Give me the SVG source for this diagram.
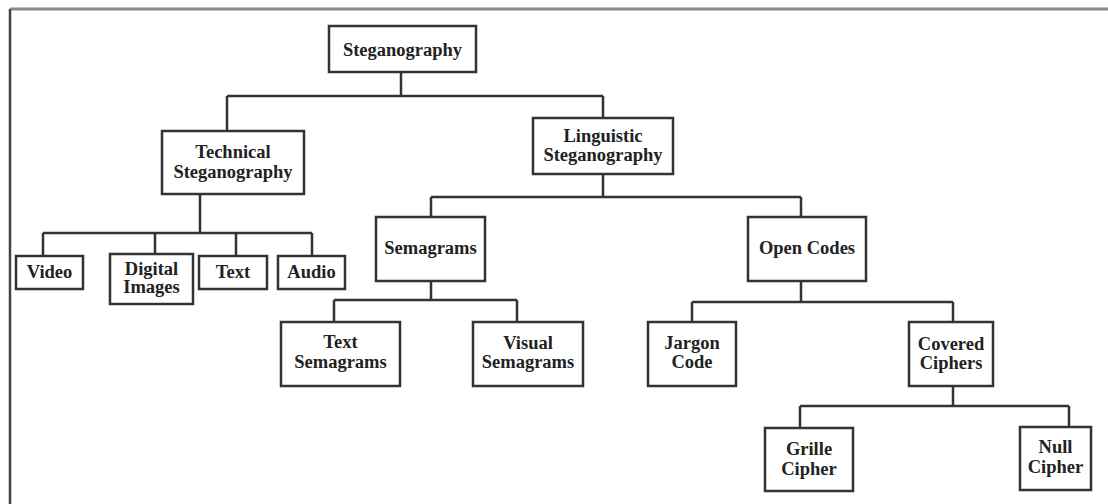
<svg xmlns="http://www.w3.org/2000/svg" width="1108" height="504" viewBox="0 0 1108 504">
<style>
.box{fill:#fff;stroke:#333;stroke-width:2.5}
.ln{fill:none;stroke:#333;stroke-width:2.5}
text{font-family:"Liberation Serif","Times New Roman",serif;font-weight:bold;font-size:18.5px;fill:#222;text-anchor:middle}
</style>
<rect x="0" y="0" width="1108" height="504" fill="#fff"/>
<g id="frame">
<line x1="10" y1="9" x2="1108" y2="9" stroke="#888" stroke-width="3"/>
<line x1="10" y1="9" x2="10" y2="504" stroke="#444" stroke-width="2.5"/>
</g>
<g id="connectors" class="ln">
<path class="ln" d="M401 72V96M227 96H603M227 96V131M603 96V118"/>
<path class="ln" d="M200 194V233M43 233H312M43 233V256M155 233V254M236 233V256M312 233V256"/>
<path class="ln" d="M603 174V197M431 197H801M431 197V217M801 197V217"/>
<path class="ln" d="M431 281V300M334 300H517M334 300V322M517 300V322"/>
<path class="ln" d="M801 281V302M692 302H953M692 302V322M953 302V322"/>
<path class="ln" d="M953 386V406M800 406H1069M800 406V428M1069 406V427"/>
</g>
<g id="n-steganography"><rect class="box" x="329" y="26" width="147" height="46"/><text x="402.5" y="56">Steganography</text></g>
<g id="n-technical"><rect class="box" x="162" y="131" width="142" height="63"/><text x="233" y="158">Technical</text><text x="233" y="178">Steganography</text></g>
<g id="n-linguistic"><rect class="box" x="533" y="118" width="140" height="56"/><text x="603" y="142">Linguistic</text><text x="603" y="161">Steganography</text></g>
<g id="n-video"><rect class="box" x="16" y="256" width="67" height="33"/><text x="49.5" y="278">Video</text></g>
<g id="n-digital"><rect class="box" x="110" y="254" width="83" height="50"/><text x="151.5" y="275">Digital</text><text x="151.5" y="293">Images</text></g>
<g id="n-text"><rect class="box" x="199" y="256" width="68" height="33"/><text x="233" y="278">Text</text></g>
<g id="n-audio"><rect class="box" x="278" y="256" width="67" height="33"/><text x="311.5" y="278">Audio</text></g>
<g id="n-semagrams"><rect class="box" x="376" y="217" width="109" height="64"/><text x="430.5" y="254">Semagrams</text></g>
<g id="n-opencodes"><rect class="box" x="748" y="217" width="118" height="64"/><text x="807" y="254">Open Codes</text></g>
<g id="n-textsem"><rect class="box" x="281" y="322" width="119" height="64"/><text x="340.5" y="348">Text</text><text x="340.5" y="368">Semagrams</text></g>
<g id="n-visualsem"><rect class="box" x="473" y="322" width="110" height="64"/><text x="528" y="349">Visual</text><text x="528" y="368">Semagrams</text></g>
<g id="n-jargon"><rect class="box" x="648" y="322" width="88" height="64"/><text x="692" y="349">Jargon</text><text x="692" y="368">Code</text></g>
<g id="n-covered"><rect class="box" x="909" y="322" width="84" height="64"/><text x="951" y="350">Covered</text><text x="951" y="369">Ciphers</text></g>
<g id="n-grille"><rect class="box" x="765" y="428" width="88" height="63"/><text x="809" y="455">Grille</text><text x="809" y="475">Cipher</text></g>
<g id="n-null"><rect class="box" x="1020" y="427" width="71" height="63"/><text x="1055.5" y="453">Null</text><text x="1055.5" y="473">Cipher</text></g>
</svg>
